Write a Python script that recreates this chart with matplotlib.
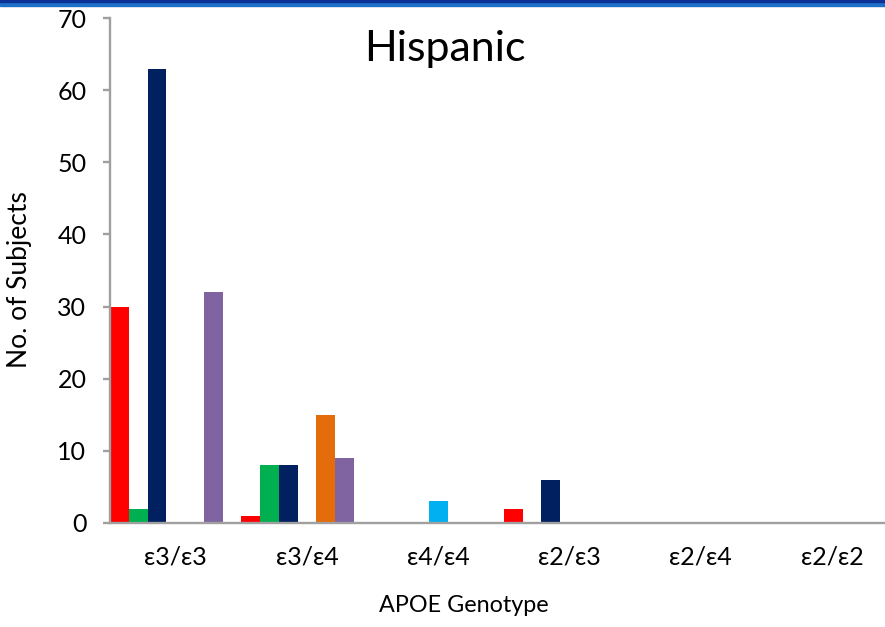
import numpy as np
import matplotlib.pyplot as plt
from matplotlib.patches import Rectangle

plt.rcParams['font.family'] = ['Lato', 'DejaVu Sans']

genotypes = ["ε3/ε3", "ε3/ε4", "ε4/ε4", "ε2/ε3", "ε2/ε4", "ε2/ε2"]

# subject counts per genotype, one list per group
red_vals = [30, 1, 0, 2, 0, 0]
green_vals = [2, 8, 0, 0, 0, 0]
navy_vals = [63, 8, 0, 6, 0, 0]
cyan_vals = [0, 0, 3, 0, 0, 0]
orange_vals = [0, 15, 0, 0, 0, 0]
purple_vals = [32, 9, 0, 0, 0, 0]

series = [red_vals, green_vals, navy_vals, cyan_vals, orange_vals, purple_vals]
colors = ["#FF0000", "#00B050", "#002060", "#00B0F0", "#E46C0A", "#8064A2"]

fig = plt.figure(figsize=(8.85, 6.27), dpi=100)
ax = fig.add_axes([110 / 885, 1 - 523 / 627, 6 * 131.3 / 885, 505 / 627])

# 7 slots per category, no gap between bars
slot = 1 / 7
x = np.arange(len(genotypes))
for i, (vals, c) in enumerate(zip(series, colors)):
    ax.bar(x - 0.5 + (i + 0.5) * slot, vals, width=slot, color=c, linewidth=0)

ax.set_xlim(-0.5, len(genotypes) - 0.5)
ax.set_ylim(0, 70)
ax.set_yticks(range(0, 71, 10))
ax.set_xticks(x)
ax.set_xticklabels(genotypes)

axis_gray = "#a0a0a0"
for s in ["top", "right"]:
    ax.spines[s].set_visible(False)
for s in ["left", "bottom"]:
    ax.spines[s].set_color(axis_gray)
    ax.spines[s].set_linewidth(1.7)
ax.tick_params(axis="y", length=5, width=1.7, color=axis_gray, pad=12, labelsize=18)
ax.tick_params(axis="x", length=0, pad=16, labelsize=18)

ax_w = 6 * 131.3
ax.set_xlabel("APOE Genotype", fontsize=16.8)
ax.xaxis.label.set_va("center")
ax.xaxis.set_label_coords((464 - 110) / ax_w, (523 - 605) / 505)
ax.set_ylabel("No. of Subjects", fontsize=19)
ax.yaxis.label.set_va("center")
ax.yaxis.set_label_coords(-90 / ax_w, (523 - 280) / 505)

ax.text((445 - 110) / ax_w, (523 - 61) / 505, "Hispanic",
        transform=ax.transAxes, ha="center", va="baseline", fontsize=31)

# slide header band
fig.patches.append(Rectangle((0, 1 - 6 / 627), 1, 6 / 627, transform=fig.transFigure,
                             color="#1e6fc8", zorder=5))
fig.patches.append(Rectangle((0, 1 - 1.5 / 627), 1, 1.5 / 627, transform=fig.transFigure,
                             color="#0a3296", zorder=6))

fig.savefig("out.png", dpi=100)
